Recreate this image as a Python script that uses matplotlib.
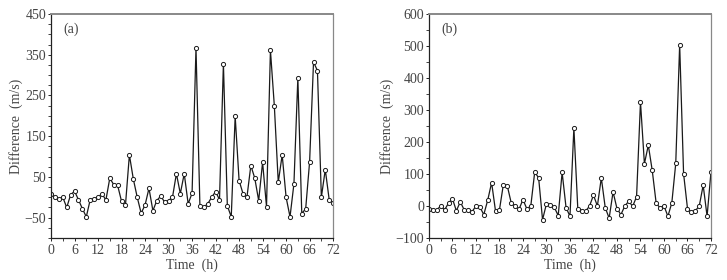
import numpy as np
import matplotlib.pyplot as plt
from matplotlib.ticker import MultipleLocator

# Hourly differences (m/s)
hours = np.arange(0, 73)
diff_a = [8, 0, -5, 0, -25, 6, 15, -6, -28, -48, -6, -4, 0, 9, -7, 47, 31, 29,
          -10, -19, 104, 45, 0, -39, -19, 22, -33, -8, 3, -12, -8, 0, 58, 9,
          58, -16, 10, 367, -21, -24, -16, 0, 14, -6, 328, -21, -48, 199, 41,
          9, 0, 78, 47, -8, 86, -23, 361, 224, 37, 104, 0, -48, 33, 293, -40,
          -28, 87, 332, 311, 0, 68, -6, -13]
diff_b = [-9, -12, -12, 0, -12, 9, 23, -15, 13, -12, -12, -18, 0, -3, -27, 18,
          73, -16, -12, 67, 63, 10, 0, -10, 20, -9, 0, 106, 88, -43, 7, 2, -4,
          -30, 105, -5, -32, 244, -9, -15, -16, 0, 34, 0, 88, -5, -38, 44, -8,
          -27, 0, 15, -1, 29, 325, 132, 190, 111, 9, -6, 0, -32, 10, 133, 504,
          101, -8, -20, -15, 0, 65, -32, 107]

plt.rcParams.update({
    "font.family": "Liberation Serif",
    "font.size": 8,
})

txt = "#444444"
fig = plt.figure(figsize=(7.27, 2.80), dpi=100)

panels = [
    (0.0702, diff_a, (-100, 450), 100, -50, "(a)"),
    (0.590, diff_b, (-100, 600), 100, -100, "(b)"),
]

for left, vals, ylim, step, start, tag in panels:
    ax = fig.add_axes([left, 0.15, 0.388, 0.80])
    ax.plot(hours, vals, color="#1a1a1a", lw=0.9, marker="o", ms=3,
            mfc="white", mec="#1a1a1a", mew=0.7)
    ax.set_xlim(0, 72)
    ax.set_ylim(*ylim)
    ax.xaxis.set_major_locator(MultipleLocator(6))
    ax.xaxis.set_minor_locator(MultipleLocator(3))
    ax.set_yticks(np.arange(start, ylim[1] + 1, step))
    ax.yaxis.set_minor_locator(MultipleLocator(50 if tag == "(b)" else 25))
    ax.tick_params(which="major", direction="out", length=2.5, width=0.7,
                   colors="#222222", labelcolor=txt, labelsize=10)
    ax.tick_params(which="minor", direction="out", length=2, width=0.6,
                   colors="#222222")
    ax.tick_params(axis="x", pad=2)
    ax.tick_params(axis="y", pad=1)
    ax.set_xlabel("Time  (h)", color=txt, fontsize=10, labelpad=1)
    ax.set_ylabel("Difference  (m/s)", color=txt, fontsize=10, labelpad=1)
    for s in ["left", "bottom"]:
        ax.spines[s].set_color("#222222")
        ax.spines[s].set_linewidth(0.9)
    ax.spines["top"].set_color("#888888")
    ax.spines["top"].set_linewidth(1.4)
    ax.spines["right"].set_color("#888888")
    ax.spines["right"].set_linewidth(0.9)
    ax.text(0.045, 0.96, tag, transform=ax.transAxes, color=txt,
            fontsize=10, va="top", ha="left")

fig.savefig("out.png", dpi=100)
